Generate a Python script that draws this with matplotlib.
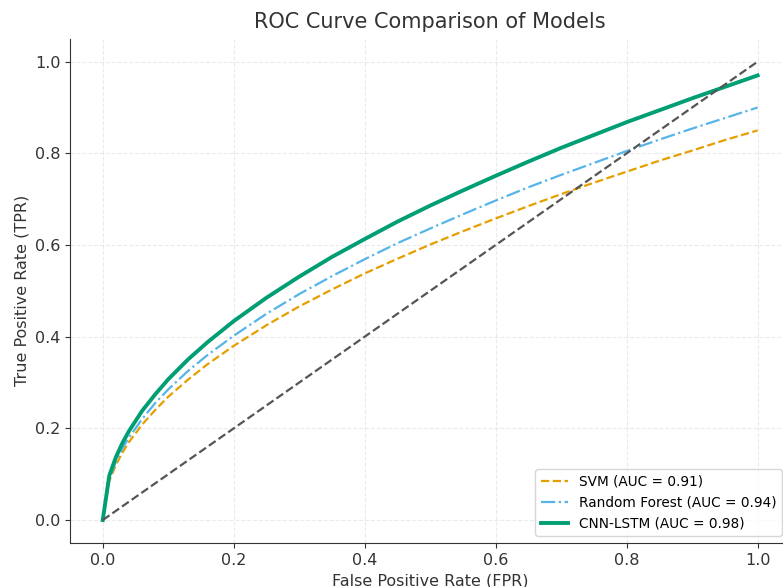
import matplotlib
matplotlib.use('Agg')
import matplotlib.pyplot as plt

# Valores
fpr = [0, 0.01, 0.02, 0.03, 0.04, 0.06, 0.08, 0.1, 0.13, 0.16, 0.2, 0.25, 0.3, 0.35,
       0.4, 0.45, 0.5, 0.55, 0.6, 0.65, 0.7, 0.75, 0.8, 0.85, 0.9, 0.95, 1.0]
tpr_svm = [0, 0.085, 0.12, 0.147, 0.17, 0.208, 0.24, 0.269, 0.306, 0.34, 0.38, 0.425,
           0.466, 0.503, 0.538, 0.57, 0.601, 0.63, 0.658, 0.685, 0.711, 0.736, 0.76,
           0.784, 0.806, 0.829, 0.85]
tpr_rf = [0, 0.09, 0.127, 0.156, 0.18, 0.22, 0.255, 0.285, 0.325, 0.36, 0.402, 0.45,
          0.493, 0.532, 0.569, 0.604, 0.636, 0.667, 0.697, 0.726, 0.753, 0.779, 0.805,
          0.83, 0.854, 0.877, 0.9]
tpr_cnn = [0, 0.097, 0.137, 0.168, 0.194, 0.238, 0.274, 0.307, 0.35, 0.388, 0.434, 0.485,
           0.531, 0.574, 0.613, 0.651, 0.686, 0.719, 0.751, 0.782, 0.812, 0.84, 0.868,
           0.894, 0.92, 0.945, 0.97]
diag = [0, 1]

labels = ['SVM (AUC = 0.91)', 'Random Forest (AUC = 0.94)', 'CNN-LSTM (AUC = 0.98)']
colores = ['#E69F00', '#56B4E9', '#009E73']

fig = plt.figure(figsize=(7.83, 5.87), dpi=100)
ax = fig.add_axes([0.0894, 0.075, 0.92, 0.859])

ax.plot(fpr, tpr_svm, '--', color=colores[0], linewidth=1.6, label=labels[0])
ax.plot(fpr, tpr_rf, '-.', color=colores[1], linewidth=1.6, label=labels[1])
ax.plot(fpr, tpr_cnn, '-', color=colores[2], linewidth=2.8, label=labels[2])
ax.plot(diag, diag, '--', color='#555555', linewidth=1.6)

ax.set_xlim(-0.05, 1.05)
ax.set_ylim(-0.05, 1.05)
ax.set_title('ROC Curve Comparison of Models', fontsize=15, color='#333333', pad=8)
ax.set_xlabel('False Positive Rate (FPR)', fontsize=11.5, color='#333333', labelpad=4)
ax.set_ylabel('True Positive Rate (TPR)', fontsize=11.5, color='#333333')
ax.tick_params(labelsize=11.5, colors='#333333')
ax.grid(True, linestyle='--', alpha=0.25)
ax.spines['top'].set_visible(False)
ax.spines['right'].set_visible(False)
for s in ['left', 'bottom']:
    ax.spines[s].set_color('#333333')
ax.legend(loc='lower right', fontsize=9.8, borderaxespad=0,
          bbox_to_anchor=(0.9987, 0.0869), bbox_transform=fig.transFigure)

plt.savefig('out.png', dpi=100)
